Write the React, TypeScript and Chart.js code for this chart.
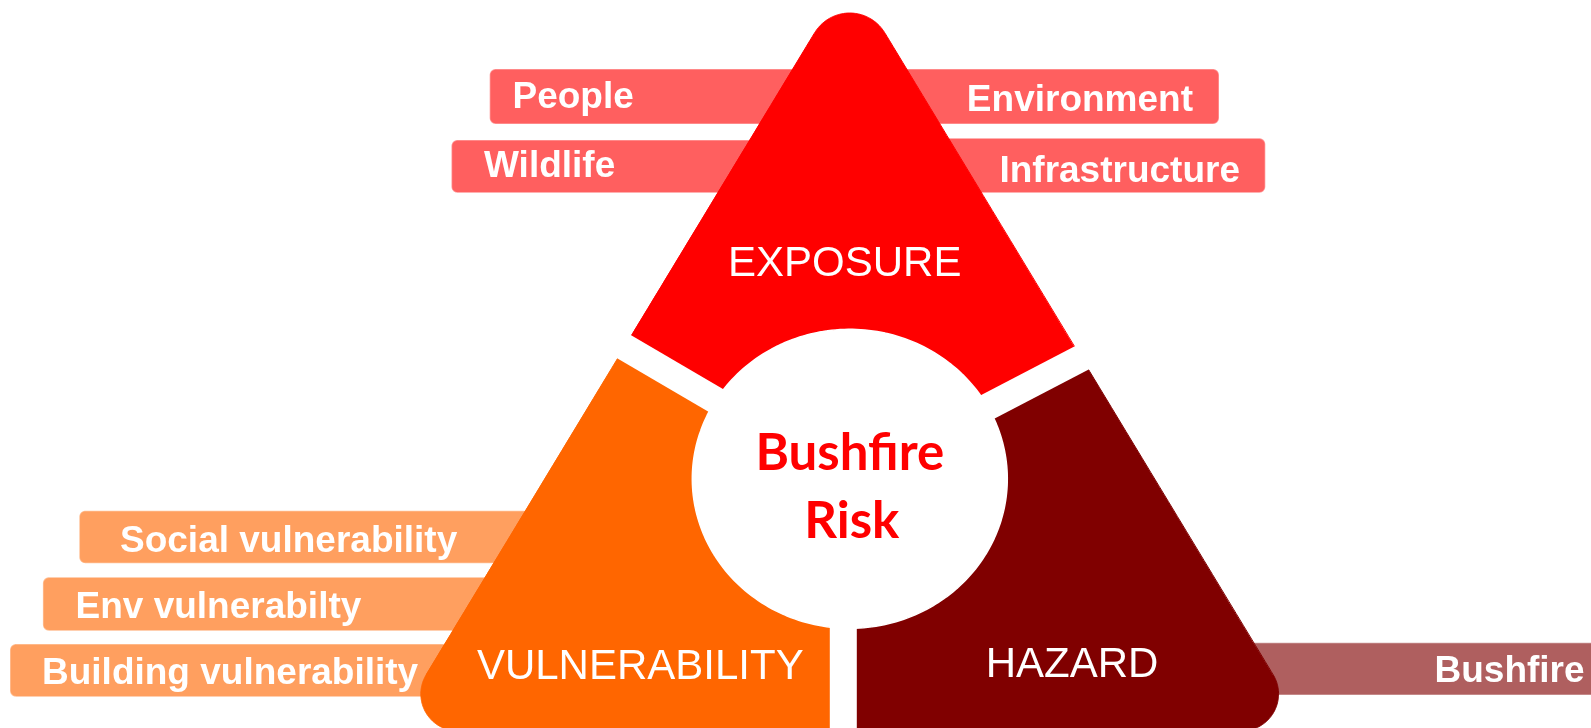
import React, { useEffect, useRef } from 'react';
import { Chart, registerables } from 'chart.js';

Chart.register(...registerables);

const W = 1591;
const H = 728;

// Big rounded triangle (apex, bottom-left, bottom-right)
const TRI_X = [849.7, 392.2, 1307.2];
const TRI_Y = [-25.2, 731, 731];
const TRI_RADIUS = [41, 37, 37];

// Three sections
const SECTION_NAMES = ['EXPOSURE', 'VULNERABILITY', 'HAZARD'];
const SECTION_COLORS = ['#FF0000', '#FF6600', '#800000'];
const SECTION_LABEL_X = [844.7, 640.3, 1072];
const SECTION_LABEL_Y = [276, 678.8, 676.8];

// Central core
const CORE_CX = 849.8;
const CORE_CY = 478.8;
const CORE_RX = 157.5;
const CORE_RY = 149.5;
const CORE_LINES = ['Bushfire', 'Risk'];
const CORE_LINE_X = [849.8, 851.8];
const CORE_LINE_Y = [470, 538];

// White gaps separating sections (origin, direction in degrees)
const GAP_X = [849.8, 849.8, 843.3];
const GAP_Y = [478.8, 478.8, 478.8];
const GAP_ANGLE = [-149.67, -27.54, 90];
const GAP_WIDTH = 27;

// Factor boxes
const FACTOR_LABELS = ['People', 'Environment', 'Wildlife', 'Infrastructure', 'Social vulnerability', 'Env vulnerabilty', 'Building vulnerability', 'Bushfire'];
const FACTOR_GROUP = [0, 0, 0, 0, 1, 1, 1, 2];
const FACTOR_X0 = [489.7, 840, 451.5, 840, 79.3, 42.9, 10, 1200];
const FACTOR_X1 = [860, 1219, 860, 1265.3, 640, 620, 620, 1600];
const FACTOR_Y0 = [69, 69, 140, 138.3, 510.7, 577.3, 644, 642.7];
const FACTOR_Y1 = [124, 124, 192.7, 192.8, 563.3, 630.7, 696.7, 695];
const FACTOR_TEXT_X = [512.5, 1193, 484, 1240, 120, 75.5, 42, 1434.5];
const FACTOR_TEXT_Y = [108, 110.7, 177.3, 181.7, 551.7, 617.7, 684.3, 681.7];
const FACTOR_ALIGN = ['left', 'right', 'left', 'right', 'left', 'left', 'left', 'left'];
const GROUP_COLORS = ['#FF5F5F', '#FF9F5F', '#AF5F5F'];

// tiny tension: keeps edges straight but avoids Chart.js' pixel-collapsing fast path
const SHAPE_TENSION = 0.000001;

type P = { x: number; y: number };

function unit(x: number, y: number): P {
  const l = Math.hypot(x, y);
  return { x: x / l, y: y / l };
}

function cornerArc(i: number, fromIdx: number, toIdx: number, steps = 28): P[] {
  const vx = TRI_X[i], vy = TRI_Y[i];
  const a = unit(TRI_X[fromIdx] - vx, TRI_Y[fromIdx] - vy);
  const b = unit(TRI_X[toIdx] - vx, TRI_Y[toIdx] - vy);
  const theta = Math.acos(a.x * b.x + a.y * b.y) / 2;
  const r = TRI_RADIUS[i];
  const d = r / Math.tan(theta);
  const bis = unit(a.x + b.x, a.y + b.y);
  const h = r / Math.sin(theta);
  const cx = vx + bis.x * h, cy = vy + bis.y * h;
  const t1 = { x: vx + a.x * d, y: vy + a.y * d };
  const t2 = { x: vx + b.x * d, y: vy + b.y * d };
  const a1 = Math.atan2(t1.y - cy, t1.x - cx);
  const a2 = Math.atan2(t2.y - cy, t2.x - cx);
  let diff = a2 - a1;
  while (diff > Math.PI) diff -= 2 * Math.PI;
  while (diff < -Math.PI) diff += 2 * Math.PI;
  const pts: P[] = [];
  for (let k = 0; k <= steps; k++) {
    const t = a1 + (diff * k) / steps;
    pts.push({ x: cx + r * Math.cos(t), y: cy + r * Math.sin(t) });
  }
  return pts;
}

function gapDir(g: number): P {
  const t = (GAP_ANGLE[g] * Math.PI) / 180;
  return { x: Math.cos(t), y: Math.sin(t) };
}

function gapHit(g: number, i: number, j: number): P {
  const ox = GAP_X[g], oy = GAP_Y[g];
  const d = gapDir(g);
  const px = TRI_X[i], py = TRI_Y[i];
  const ex = TRI_X[j] - px, ey = TRI_Y[j] - py;
  const den = d.x * ey - d.y * ex;
  const s = ((px - ox) * ey - (py - oy) * ex) / den;
  return { x: ox + s * d.x, y: oy + s * d.y };
}

function origin(g: number): P {
  return { x: GAP_X[g], y: GAP_Y[g] };
}

function sectionPolygon(s: number): P[] {
  if (s === 0) {
    return [origin(0), gapHit(0, 0, 1), ...cornerArc(0, 1, 2), gapHit(1, 0, 2), origin(1)];
  }
  if (s === 1) {
    return [origin(2), gapHit(2, 1, 2), ...cornerArc(1, 2, 0), gapHit(0, 0, 1), origin(0)];
  }
  return [origin(1), gapHit(1, 0, 2), ...cornerArc(2, 0, 1), gapHit(2, 1, 2), origin(2)];
}

function ellipsePoints(steps = 240): P[] {
  // start the outline under a white gap so the path seam is hidden
  const start = (GAP_ANGLE[1] * Math.PI) / 180;
  const pts: P[] = [];
  for (let k = 0; k <= steps; k++) {
    const t = start + (2 * Math.PI * k) / steps;
    pts.push({ x: CORE_CX + CORE_RX * Math.cos(t), y: CORE_CY + CORE_RY * Math.sin(t) });
  }
  return pts;
}

function roundRect(x0: number, y0: number, x1: number, y1: number, r: number): P[] {
  const pts: P[] = [];
  const corners = [
    [x1 - r, y0 + r, -Math.PI / 2],
    [x1 - r, y1 - r, 0],
    [x0 + r, y1 - r, Math.PI / 2],
    [x0 + r, y0 + r, Math.PI],
  ];
  corners.forEach(([cx, cy, start]) => {
    for (let k = 0; k <= 6; k++) {
      const t = start + (Math.PI / 2) * (k / 6);
      pts.push({ x: cx + r * Math.cos(t), y: cy + r * Math.sin(t) });
    }
  });
  pts.push(pts[0]);
  return pts;
}

function gapLine(g: number): P[] {
  const d = gapDir(g);
  const hit = g === 0 ? gapHit(0, 0, 1) : g === 1 ? gapHit(1, 0, 2) : gapHit(2, 1, 2);
  return [origin(g), { x: hit.x + d.x * 20, y: hit.y + d.y * 20 }];
}

const textPlugin = {
  id: 'diagramText',
  afterDatasetsDraw(chart: any) {
    const { ctx } = chart;
    const xs = chart.scales.x;
    const ys = chart.scales.y;
    ctx.save();
    ctx.textBaseline = 'alphabetic';
    ctx.fillStyle = '#FFFFFF';
    ctx.font = 'bold 37px "Liberation Sans", Arial, sans-serif';
    FACTOR_LABELS.forEach((t, i) => {
      ctx.textAlign = FACTOR_ALIGN[i];
      ctx.fillText(t, xs.getPixelForValue(FACTOR_TEXT_X[i]), ys.getPixelForValue(FACTOR_TEXT_Y[i]));
    });
    ctx.font = '42px "Liberation Sans", Arial, sans-serif';
    ctx.textAlign = 'center';
    SECTION_NAMES.forEach((t, i) => {
      ctx.fillText(t, xs.getPixelForValue(SECTION_LABEL_X[i]), ys.getPixelForValue(SECTION_LABEL_Y[i]));
    });
    ctx.fillStyle = '#FF0000';
    ctx.font = 'bold 51px Lato, "Open Sans", sans-serif';
    CORE_LINES.forEach((t, i) => {
      ctx.fillText(t, xs.getPixelForValue(CORE_LINE_X[i]), ys.getPixelForValue(CORE_LINE_Y[i]));
    });
    ctx.restore();
  },
};

export default function App() {
  const ref = useRef<HTMLCanvasElement | null>(null);

  useEffect(() => {
    if (!ref.current) return;
    const datasets: any[] = [];
    FACTOR_LABELS.forEach((_, i) => {
      datasets.push({
        type: 'line',
        data: roundRect(FACTOR_X0[i], FACTOR_Y0[i], FACTOR_X1[i], FACTOR_Y1[i], 6),
        fill: 'shape',
        backgroundColor: GROUP_COLORS[FACTOR_GROUP[i]],
        borderColor: 'rgba(255,255,255,0.35)',
        borderWidth: 1.5,
        pointRadius: 0,
        tension: SHAPE_TENSION,
        order: 10,
      });
    });
    SECTION_NAMES.forEach((_, s) => {
      datasets.push({
        type: 'line',
        data: sectionPolygon(s),
        fill: 'shape',
        backgroundColor: SECTION_COLORS[s],
        borderColor: SECTION_COLORS[s],
        borderWidth: 1,
        pointRadius: 0,
        tension: SHAPE_TENSION,
        order: 5,
      });
    });
    datasets.push({
      type: 'line',
      data: ellipsePoints(),
      fill: 'shape',
      backgroundColor: '#FFFFFF',
      borderColor: '#FFFFFF',
      borderWidth: 1.5,
      borderJoinStyle: 'round',
      borderCapStyle: 'round',
      pointRadius: 0,
      tension: SHAPE_TENSION,
      order: 2,
    });
    GAP_X.forEach((_, g) => {
      datasets.push({
        type: 'line',
        data: gapLine(g),
        fill: false,
        borderColor: '#FFFFFF',
        borderWidth: GAP_WIDTH,
        borderCapStyle: 'butt',
        pointRadius: 0,
        tension: 0,
        order: 1,
      });
    });

    const chart = new Chart(ref.current, {
      type: 'line',
      data: { datasets },
      options: {
        animation: false,
        responsive: true,
        maintainAspectRatio: false,
        events: [],
        layout: { padding: 0 },
        elements: { line: { capBezierPoints: false } },
        plugins: {
          legend: { display: false },
          tooltip: { enabled: false },
        },
        scales: {
          x: { type: 'linear', min: 0, max: W, display: false },
          y: { type: 'linear', min: 0, max: H, reverse: true, display: false },
        },
      },
      plugins: [textPlugin],
    } as any);
    return () => chart.destroy();
  }, []);

  return (
    <div style={{ position: 'absolute', left: 0, top: 0, width: W, height: H, background: '#FFFFFF' }}>
      <canvas ref={ref} />
    </div>
  );
}
